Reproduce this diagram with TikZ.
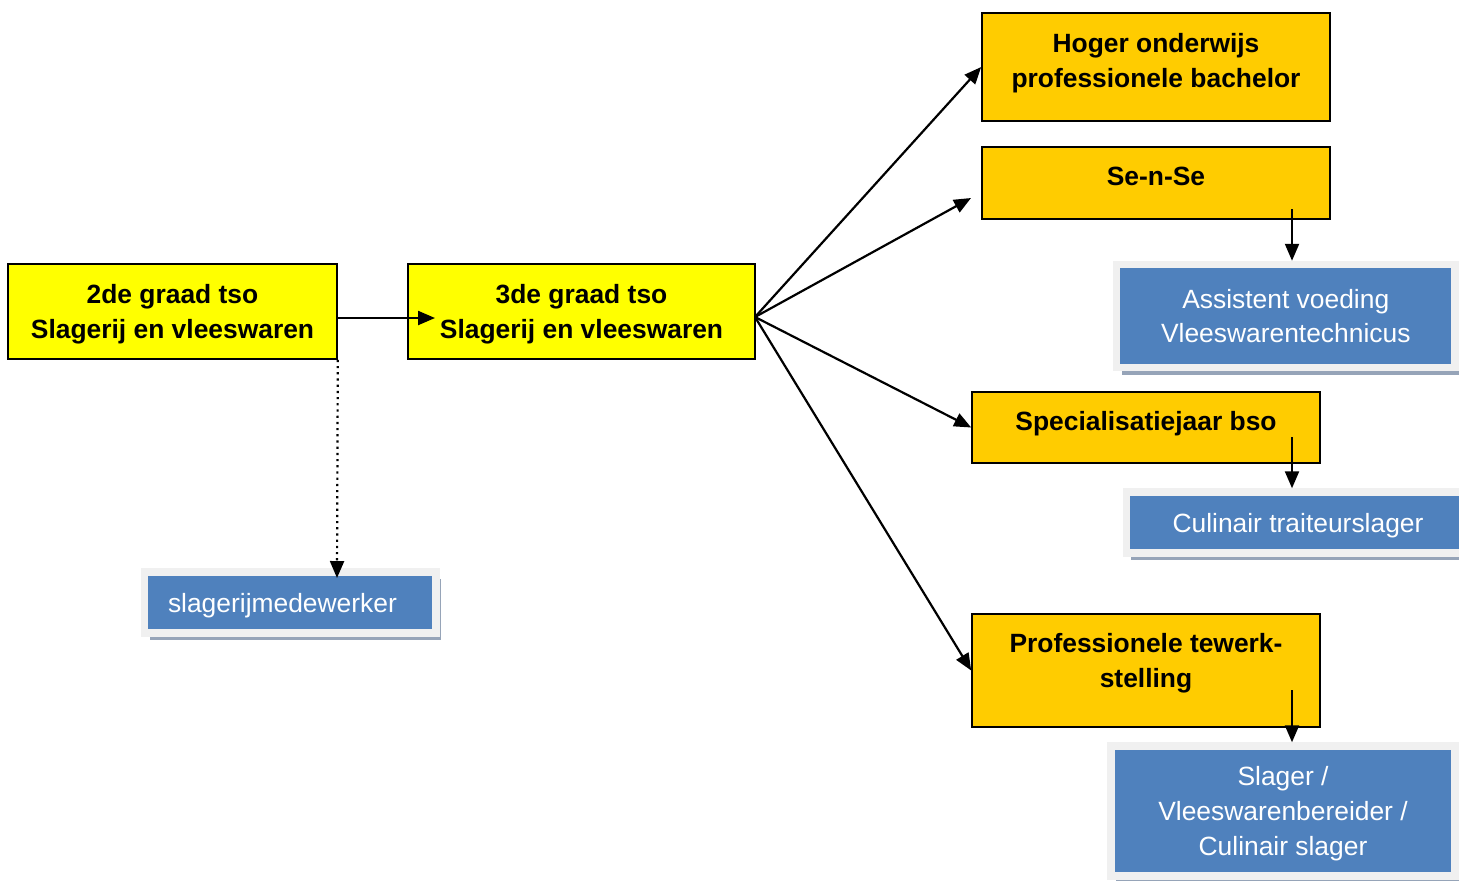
\documentclass[tikz,border=0pt]{standalone}
\usepackage{fontspec}
\setmainfont{Liberation Sans}
\usetikzlibrary{arrows.meta}
\definecolor{tsoyellow}{RGB}{255,255,0}
\definecolor{goldbox}{RGB}{255,204,0}
\definecolor{jobblue}{RGB}{79,129,189}
\definecolor{jobframe}{RGB}{240,240,240}
\definecolor{jobshadow}{RGB}{150,164,184}
\tikzset{
	box/.style={draw,rectangle,align=center,line width=0.8pt,font=\fontsize{13.2}{17.3}\selectfont\bfseries},
	tso/.style={box,fill=tsoyellow,minimum height=47.5pt,text depth=0pt},
	vervolg/.style={box,fill=goldbox,minimum width=174pt,inner ysep=0pt,text height=19.25pt},
	beroep/.style={rectangle,align=center,inner sep=0pt,text depth=0pt,fill=jobblue,draw=jobframe,line width=3.75pt,text=white,font=\fontsize{13.2}{17.3}\selectfont,preaction={fill=jobshadow,transform canvas={xshift=2.5pt,yshift=-3.5pt}}},
	pijl/.style={-{Triangle[length=8.5pt,width=7pt]},line width=1.1pt},
	stippel/.style={pijl,dotted}
}
\begin{document}
\begin{tikzpicture}[x=0.5pt,y=-0.5pt]
			\useasboundingbox (0,0) rectangle (1459,880);

			\node[tso,minimum width=164.5pt] (G2) at (172.5,311.5) {2de graad tso\\Slagerij en vleeswaren};
			\node[tso,minimum width=173.5pt] (G3) at (581.5,311.5) {3de graad tso\\Slagerij en vleeswaren};

			\node[vervolg,text height=37.05pt,text depth=16.95pt] (V1) at (1156,67) {Hoger onderwijs\\professionele bachelor};
			\node[vervolg,text depth=16.75pt] (V2) at (1156,183) {Se-n-Se};
			\node[vervolg,text depth=16.25pt] (V3) at (1146,427.5) {Specialisatiejaar bso};
			\node[vervolg,text height=36.55pt,text depth=19.95pt] (V4) at (1146,670.5) {Professionele tewerk-\\stelling};

			\node[beroep,minimum width=169.25pt,minimum height=51.5pt] (B1) at (1285.75,316) {Assistent voeding\\Vleeswarentechnicus};
			\node[beroep,minimum width=171.75pt,minimum height=30.5pt] (B2) at (1298,522.5) {Culinair traiteurslager};
			\node[beroep,minimum width=172pt,minimum height=65pt] (B3) at (1283,811) {Slager /\\Vleeswarenbereider /\\Culinair slager};
			\node[beroep,align=left,inner xsep=11.75pt,text width=122.25pt,minimum height=30.5pt] (B4) at (290.25,602.5) {slagerijmedewerker};

			\node[coordinate] (X0) at (755,317) {};
			\node[coordinate] (X1) at (435,318) {};
			\node[coordinate] (X2) at (971,198) {};
			\node[coordinate] (X3) at (337,578) {};
			\node[coordinate] (Y1) at (1292,209) {};
			\node[coordinate] (Y2) at (1292,437) {};
			\node[coordinate] (Y3) at (1292,690) {};

			\draw[pijl] (G2.east |- X1) -- (X1);
			\draw[stippel] (G2.south east) -- (X3);
			\draw[pijl] (X0) -- (V1.west);
			\draw[pijl] (X0) -- (X2);
			\draw[pijl] (X0) -- (V3.west);
			\draw[pijl] (X0) -- (V4.west);
			\draw[pijl] (Y1) -- (Y1 |- B1.north);
			\draw[pijl] (Y2) -- (Y2 |- B2.north);
			\draw[pijl] (Y3) -- (Y3 |- B3.north);
		\end{tikzpicture}
\end{document}
